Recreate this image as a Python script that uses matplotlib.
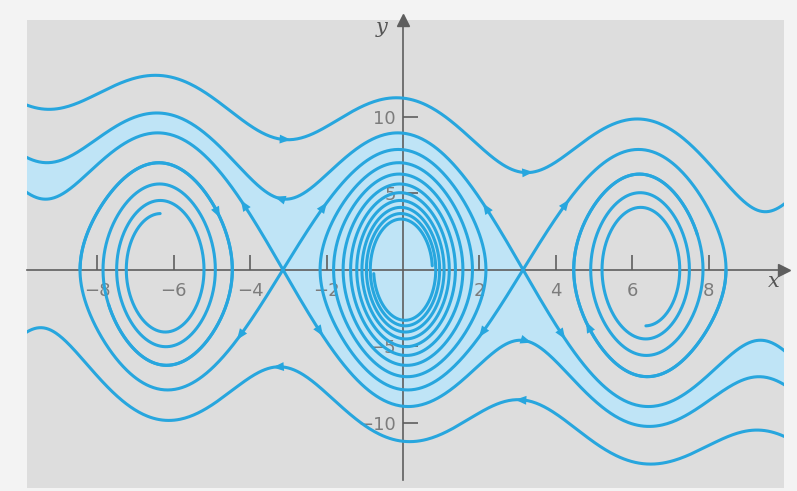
import math
import numpy as np
import matplotlib.pyplot as plt

# damped pendulum  x' = y,  y' = -w2 sin x - g y
w2 = 17.5
g = 0.27

x_range = (-9.84, 9.97)
y_range = (-14.25, 16.3)

x_ticks = [-8, -6, -4, -2, 2, 4, 6, 8]
x_tick_labels = ['\u22128', '\u22126', '\u22124', '\u22122', '2', '4', '6', '8']
y_ticks = [-10, -5, 5, 10]
y_tick_labels = ['\u221210', '\u22125', '5', '10']

# trajectories of the upper family; the lower family is the mirror (x, y) -> (-x, -y)
# kind, start, end point (None = run until it leaves the box), arrow spots
top_curve = ('point', (0.0, 11.2), None, [(-3.2, 8.5), (3.2, 6.4)])
stable_right = ('stable', math.pi, None, [(-3.2, 4.8), (2.25, 3.9)])
stable_left = ('stable', -math.pi, None, [(-4.2, 3.9)])
unstable_left = ('unstable', -math.pi, (0.85, 0.3), [(-2.1, 3.9)])
unstable_right = ('unstable', math.pi, (6.35, -3.4), [(4.2, 4.1)])
spiral_seed = ('forward', (-8.45, 0.0), (-7.7, -2.3), [(-5.0, 3.9)])

curves = [top_curve, stable_right, stable_left, unstable_left, unstable_right, spiral_seed]

line_col = '#27a6de'
shade_col = '#bfe4f6'
bg_col = '#dddddd'
axis_col = '#5e5e5e'


def rhs(x, y):
    return y, -w2 * math.sin(x) - g * y


def run(x, y, t, dt=0.004):
    n = int(abs(t) / dt)
    h = dt if t > 0 else -dt
    xs, ys = [x], [y]
    for _ in range(n):
        k1x, k1y = rhs(x, y)
        k2x, k2y = rhs(x + h / 2 * k1x, y + h / 2 * k1y)
        k3x, k3y = rhs(x + h / 2 * k2x, y + h / 2 * k2y)
        k4x, k4y = rhs(x + h * k3x, y + h * k3y)
        x += h / 6 * (k1x + 2 * k2x + 2 * k3x + k4x)
        y += h / 6 * (k1y + 2 * k2y + 2 * k3y + k4y)
        xs.append(x)
        ys.append(y)
        if x < x_range[0] - 0.3 or x > x_range[1] + 0.3 or abs(y) > 20:
            break
    return np.array(xs), np.array(ys)


def cut_at(xs, ys, end):
    if end is None:
        return xs, ys
    d = (xs - end[0]) ** 2 + ((ys - end[1]) / 4) ** 2
    i = int(np.argmin(d))
    return xs[:i + 1], ys[:i + 1]


def trajectory(kind, start, end):
    eps = 1e-4
    disc = math.sqrt(g * g + 4 * w2)
    lam_u = (-g + disc) / 2
    lam_s = (-g - disc) / 2
    if kind == 'point':
        bx, by = run(start[0], start[1], -60)
        fx, fy = run(start[0], start[1], 60)
        return np.r_[bx[::-1], fx[1:]], np.r_[by[::-1], fy[1:]]
    if kind == 'forward':
        xs, ys = run(start[0], start[1], 25)
        return cut_at(xs, ys, end)
    if kind == 'stable':
        # branch arriving from the upper left
        return run(start - eps, -lam_s * eps, -60)
    if kind == 'unstable':
        # branch leaving to the upper right
        xs, ys = run(start + eps, lam_u * eps, 25)
        return cut_at(xs, ys, end)


fig = plt.figure(figsize=(7.97, 4.91), dpi=100, facecolor='#f3f3f3')
ax = fig.add_axes([27 / 797, 3 / 491, 757 / 797, 468 / 491])
ax.set_facecolor(bg_col)
ax.set_xlim(*x_range)
ax.set_ylim(*y_range)

# basin of attraction of the origin
gx = np.linspace(x_range[0], x_range[1], 420)
gy = np.linspace(y_range[0], y_range[1], 330)
X, Y = np.meshgrid(gx, gy)
px, py = X.copy(), Y.copy()
h = 0.025
for _ in range(1100):
    k1x, k1y = py, -w2 * np.sin(px) - g * py
    k2x, k2y = py + h / 2 * k1y, -w2 * np.sin(px + h / 2 * k1x) - g * (py + h / 2 * k1y)
    k3x, k3y = py + h / 2 * k2y, -w2 * np.sin(px + h / 2 * k2x) - g * (py + h / 2 * k2y)
    k4x, k4y = py + h * k3y, -w2 * np.sin(px + h * k3x) - g * (py + h * k3y)
    px = px + h / 6 * (k1x + 2 * k2x + 2 * k3x + k4x)
    py = py + h / 6 * (k1y + 2 * k2y + 2 * k3y + k4y)
basin = (np.round(px / (2 * np.pi)) == 0).astype(float)
ax.contourf(X, Y, basin, levels=[0.5, 1.5], colors=[shade_col], zorder=1)


def draw(xs, ys, arrows):
    ax.plot(xs, ys, color=line_col, lw=2.2, zorder=3, solid_capstyle='round')
    for ax_, ay_ in arrows:
        i = int(np.argmin((xs - ax_) ** 2 + ((ys - ay_) / 2.5) ** 2))
        j = min(i + 8, len(xs) - 1)
        ax.annotate('', xy=(xs[j], ys[j]), xytext=(xs[i], ys[i]),
                    arrowprops=dict(arrowstyle='-|>,head_length=0.5,head_width=0.2',
                                    color=line_col, lw=0, mutation_scale=16,
                                    shrinkA=0, shrinkB=0),
                    zorder=4)


for kind, start, end, arrows in curves:
    xs, ys = trajectory(kind, start, end)
    draw(xs, ys, arrows)
    # mirror image
    draw(-xs, -ys, [(-a, -b) for a, b in arrows])

# axes through the origin
for s in ['top', 'right']:
    ax.spines[s].set_visible(False)
ax.spines['left'].set_position('zero')
ax.spines['bottom'].set_position('zero')
ax.spines['left'].set_bounds(-13.7, y_range[1])
for s in ['left', 'bottom']:
    ax.spines[s].set_color(axis_col)
    ax.spines[s].set_linewidth(1.2)
    ax.spines[s].set_zorder(2)
ax.set_xticks(x_ticks, x_tick_labels)
ax.set_yticks(y_ticks, y_tick_labels)
ax.tick_params(axis='both', direction='in', length=11, width=1.2, color=axis_col,
               labelcolor='#7c7c7c', labelsize=13)
ax.tick_params(axis='x', pad=9)
ax.tick_params(axis='y', pad=5)
ax.plot(1, 0, '>', color=axis_col, ms=8, transform=ax.get_yaxis_transform(), clip_on=False)
ax.plot(0, 1, '^', color=axis_col, ms=8, transform=ax.get_xaxis_transform(), clip_on=False)
ax.text(9.7, -0.8, 'x', fontsize=15, style='italic', family='DejaVu Serif', color='#555555',
        ha='center', va='center')
ax.text(-0.4, 15.8, 'y', fontsize=15, style='italic', family='DejaVu Serif', color='#555555',
        ha='right', va='center')

fig.savefig('out.png', dpi=100, facecolor=fig.get_facecolor())
